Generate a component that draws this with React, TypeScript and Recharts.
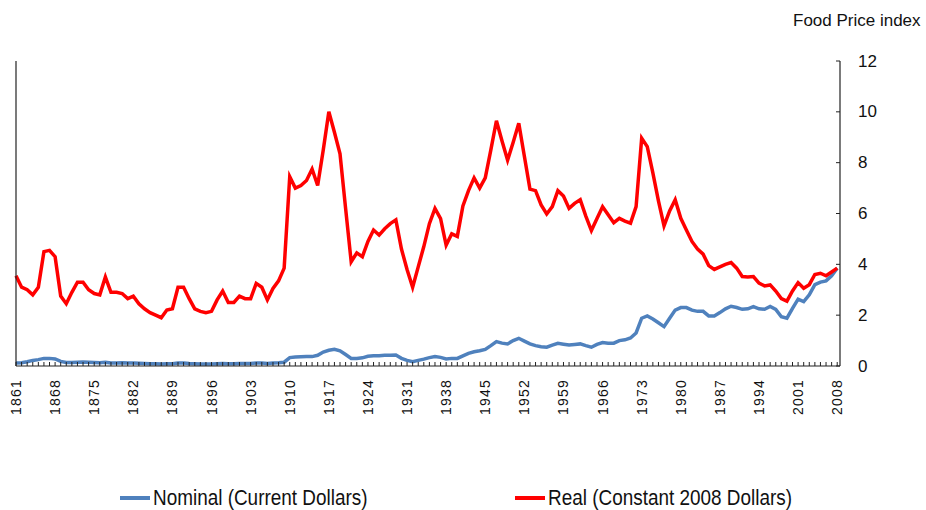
import React from "react";
import { LineChart, Line, XAxis, YAxis } from "recharts";

// annual food price index, 1861 - 2008
const firstYear = 1861;
const lastYear = 2008;
const years = Array.from({ length: lastYear - firstYear + 1 }, (_, i) => firstYear + i);

const labelYears = [
  1861, 1868, 1875, 1882, 1889, 1896, 1903, 1910, 1917, 1924, 1931, 1938,
  1945, 1952, 1959, 1966, 1973, 1980, 1987, 1994, 2001, 2008,
];

const yTicks = [0, 2, 4, 6, 8, 10, 12];

// Nominal (Current Dollars)
const nominal = [
  // 1861-1870
  0.12, 0.13, 0.17, 0.22, 0.25, 0.3, 0.3, 0.28, 0.18, 0.14,
  // 1871-1880
  0.14, 0.15, 0.16, 0.15, 0.14, 0.13, 0.15, 0.12, 0.12, 0.13,
  // 1881-1890
  0.12, 0.12, 0.11, 0.1, 0.09, 0.09, 0.08, 0.09, 0.09, 0.12,
  // 1891-1900
  0.12, 0.1, 0.09, 0.08, 0.08, 0.08, 0.09, 0.1, 0.09, 0.09,
  // 1901-1910
  0.1, 0.1, 0.1, 0.12, 0.12, 0.1, 0.12, 0.13, 0.15, 0.33,
  // 1911-1920
  0.35, 0.36, 0.37, 0.37, 0.42, 0.55, 0.62, 0.66, 0.6, 0.45,
  // 1921-1930
  0.3, 0.3, 0.32, 0.38, 0.4, 0.4, 0.42, 0.42, 0.43, 0.3,
  // 1931-1940
  0.22, 0.17, 0.22, 0.27, 0.33, 0.37, 0.34, 0.28, 0.3, 0.3,
  // 1941-1950
  0.4, 0.5, 0.56, 0.6, 0.65, 0.8, 0.96, 0.9, 0.87, 1.0,
  // 1951-1960
  1.09, 0.98, 0.87, 0.8, 0.76, 0.74, 0.82, 0.89, 0.86, 0.83,
  // 1961-1970
  0.85, 0.87, 0.8, 0.74, 0.85, 0.92, 0.9, 0.9, 1.0, 1.03,
  // 1971-1980
  1.1, 1.3, 1.88, 1.97, 1.85, 1.7, 1.55, 1.88, 2.2, 2.3,
  // 1981-1990
  2.3, 2.2, 2.15, 2.15, 1.97, 1.97, 2.1, 2.25, 2.35, 2.3,
  // 1991-2000
  2.23, 2.25, 2.34, 2.25, 2.23, 2.34, 2.23, 1.94, 1.88, 2.27,
  // 2001-2008
  2.63, 2.53, 2.8, 3.2, 3.3, 3.35, 3.55, 3.85,
];

// Real (Constant 2008 Dollars)
const real = [
  // 1861-1870
  3.55, 3.1, 3.0, 2.8, 3.1, 4.5, 4.55, 4.3, 2.75, 2.45,
  // 1871-1880
  2.9, 3.3, 3.3, 3.0, 2.85, 2.8, 3.5, 2.9, 2.9, 2.85,
  // 1881-1890
  2.65, 2.75, 2.45, 2.25, 2.1, 2.0, 1.9, 2.2, 2.25, 3.1,
  // 1891-1900
  3.1, 2.65, 2.25, 2.15, 2.1, 2.15, 2.6, 2.95, 2.5, 2.5,
  // 1901-1910
  2.75, 2.65, 2.65, 3.25, 3.1, 2.6, 3.05, 3.35, 3.85, 7.45,
  // 1911-1920
  7.0, 7.1, 7.3, 7.75, 7.1, 8.5, 10.0, 9.2, 8.35, 6.2,
  // 1921-1930
  4.1, 4.45, 4.3, 4.9, 5.35, 5.15, 5.4, 5.6, 5.75, 4.6,
  // 1931-1940
  3.8, 3.1, 3.9, 4.7, 5.6, 6.2, 5.8, 4.75, 5.2, 5.1,
  // 1941-1950
  6.3, 6.9, 7.4, 7.0, 7.4, 8.5, 9.65, 8.85, 8.1, 8.8,
  // 1951-1960
  9.55, 8.25, 6.96, 6.9, 6.34, 5.98, 6.27, 6.9, 6.69, 6.2,
  // 1961-1970
  6.4, 6.54, 5.9, 5.33, 5.8, 6.27, 5.95, 5.64, 5.81, 5.7,
  // 1971-1980
  5.62, 6.27, 8.96, 8.63, 7.6, 6.5, 5.51, 6.1, 6.54, 5.81,
  // 1981-1990
  5.35, 4.9, 4.6, 4.4, 3.95, 3.8, 3.9, 4.0, 4.07, 3.85,
  // 1991-2000
  3.52, 3.5, 3.52, 3.26, 3.15, 3.19, 2.95, 2.65, 2.55, 2.95,
  // 2001-2008
  3.28, 3.06, 3.2, 3.6, 3.65, 3.55, 3.7, 3.85,
];

const data = years.map((year, i) => ({ year, nominal: nominal[i], real: real[i] }));

const BLUE = "#4F81BD";
const RED = "#FF0000";
const AXIS = "#222";
const FONT = "Arial, 'Liberation Sans', sans-serif";

function YearTick(props: any) {
  const { x, y, payload } = props;
  const year = payload.value;
  return (
    <g>
      <line x1={x} x2={x} y1={y} y2={y - 4} stroke={AXIS} strokeWidth={1} />
      {labelYears.includes(year) && (
        <text
          transform={`translate(${x},${y + 13}) rotate(-90)`}
          textAnchor="end"
          dominantBaseline="central"
          fontSize={14}
          letterSpacing={1.2}
          fontFamily={FONT}
          fill="#111"
        >
          {year}
        </text>
      )}
    </g>
  );
}

function LeftTick(props: any) {
  const { x, y } = props;
  return <line x1={x} x2={x + 6} y1={y} y2={y} stroke={AXIS} strokeWidth={1} />;
}

function RightTick(props: any) {
  const { x, y, payload } = props;
  return (
    <g>
      <line x1={x - 4} x2={x} y1={y} y2={y} stroke={AXIS} strokeWidth={1} />
      <text x={x + 18} y={y} dominantBaseline="central" fontSize={17} fontFamily={FONT} fill="#111">
        {payload.value}
      </text>
    </g>
  );
}

const legendText: React.CSSProperties = {
  display: "inline-block",
  transform: "scaleX(0.86)",
  transformOrigin: "left center",
};

export default function App() {
  return (
    <div
      style={{
        position: "relative",
        width: 926,
        height: 510,
        padding: 8,
        boxSizing: "border-box",
        overflow: "hidden",
        background: "#fff",
      }}
    >
      <style>{"body{margin:0}"}</style>
      <LineChart
        width={918}
        height={502}
        data={data}
        margin={{ top: 53, right: 26, bottom: 94, left: 0 }}
      >
        <XAxis
          dataKey="year"
          type="number"
          domain={[firstYear, lastYear + 0.5]}
          ticks={years}
          interval={0}
          tickSize={0}
          tickMargin={0}
          tickLine={false}
          tick={<YearTick />}
          axisLine={{ stroke: AXIS, strokeWidth: 1.2 }}
          height={50}
        />
        <YAxis
          yAxisId="left"
          orientation="left"
          domain={[0, 12]}
          ticks={yTicks}
          width={8}
          tickSize={0}
          tickMargin={0}
          tickLine={false}
          tick={<LeftTick />}
          axisLine={{ stroke: AXIS, strokeWidth: 1.2 }}
        />
        <YAxis
          yAxisId="right"
          orientation="right"
          domain={[0, 12]}
          ticks={yTicks}
          width={60}
          tickSize={0}
          tickMargin={0}
          tickLine={false}
          tick={<RightTick />}
          axisLine={{ stroke: AXIS, strokeWidth: 1.2 }}
        />
        <Line
          yAxisId="right"
          type="linear"
          dataKey="nominal"
          name="Nominal (Current Dollars)"
          stroke={BLUE}
          strokeWidth={3.5}
          dot={false}
          isAnimationActive={false}
        />
        <Line
          yAxisId="right"
          type="linear"
          dataKey="real"
          name="Real (Constant 2008 Dollars)"
          stroke={RED}
          strokeWidth={3.5}
          dot={false}
          isAnimationActive={false}
        />
      </LineChart>
      <div
        style={{
          position: "absolute",
          left: 793,
          top: 11,
          fontSize: 17,
          fontFamily: FONT,
          color: "#111",
          whiteSpace: "nowrap",
        }}
      >
        Food Price index
      </div>
      <div
        style={{
          position: "absolute",
          left: 120,
          top: 484,
          height: 28,
          display: "flex",
          alignItems: "center",
          fontFamily: FONT,
          fontSize: 22,
          color: "#111",
          whiteSpace: "nowrap",
        }}
      >
        <span style={{ display: "inline-block", width: 30, height: 4, background: BLUE, marginRight: 3 }} />
        <span style={{ ...legendText, width: 362 }}>Nominal (Current Dollars)</span>
        <span style={{ display: "inline-block", width: 30, height: 4, background: RED, marginRight: 3 }} />
        <span style={legendText}>Real (Constant 2008 Dollars)</span>
      </div>
    </div>
  );
}
